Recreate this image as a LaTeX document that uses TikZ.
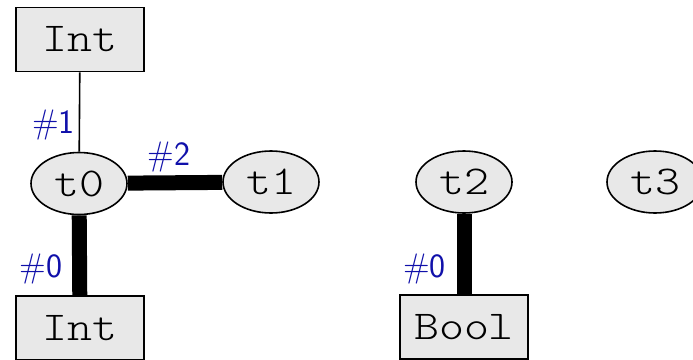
\documentclass[tikz,border=0pt]{standalone}
\usepackage{fontspec}
\setmainfont{Liberation Sans}
\setmonofont[FakeStretch=1.16]{Latin Modern Mono Light}
\usetikzlibrary{shapes.geometric}
\definecolor{nodefill}{HTML}{E8E8E8}
\definecolor{labelblue}{HTML}{1010AA}
\tikzset{
  typebox/.style={draw=black, line width=1.6pt, fill=nodefill, rectangle,
    minimum width=128pt, minimum height=64pt, inner sep=0pt,
    font=\ttfamily\fontsize{41}{48}\selectfont},
  typevar/.style={draw=black, line width=1.6pt, fill=nodefill, ellipse,
    minimum width=96pt, minimum height=62pt, inner sep=0pt,
    font=\ttfamily\fontsize{41}{48}\selectfont},
  slotlabel/.style={text=labelblue, anchor=base, inner sep=0pt,
    font=\sffamily\fontsize{34}{40}\selectfont},
  weak/.style={line width=1.6pt},
  strong/.style={line width=15pt},
}
\begin{document}
\begin{tikzpicture}[x=1pt, y=-1pt]
  \useasboundingbox (0,0) rectangle (693,359);
  % type variables
  \node[typevar] (t0) at (79,183.5) {t0};
  \node[typevar] (t1) at (271,182) {t1};
  \node[typevar] (t2) at (464,182) {t2};
  \node[typevar] (t3) at (655,182) {t3};
  % concrete types
  \node[typebox] (inttop) at (80,39.5) {Int};
  \node[typebox] (intbot) at (80,328) {Int};
  \node[typebox] (bool) at (464,327) {Bool};
  % connections
  \draw[weak] (inttop) -- (t0);
  \draw[strong] (t0) -- (intbot);
  \draw[strong] (t0) -- (t1);
  \draw[strong] (t2) -- (bool);
  % slot labels
  \node[slotlabel] (l1) at (53.5,133) {\#1};
  \node[slotlabel] (l2) at (169,165) {\#2};
  \node[slotlabel] (l0a) at (41,277) {\#0};
  \node[slotlabel] (l0b) at (424.5,277) {\#0};
\end{tikzpicture}
\end{document}
